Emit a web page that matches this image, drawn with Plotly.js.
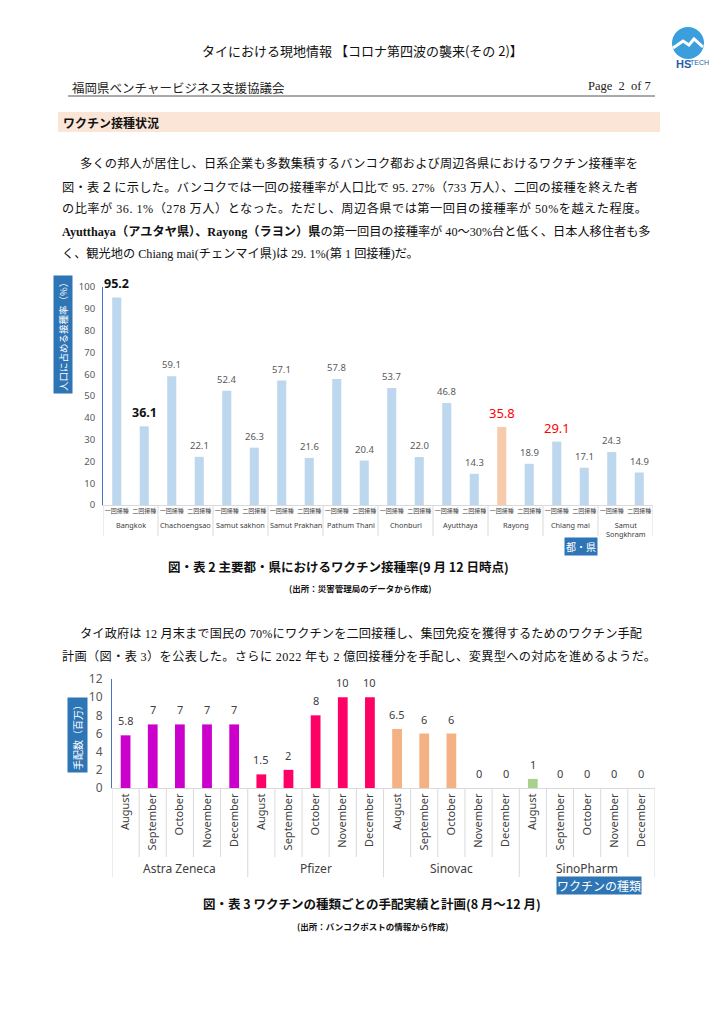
<!DOCTYPE html>
<html>
<head>
<meta charset="utf-8">
<script src="https://cdn.plot.ly/plotly-3.0.1.min.js"></script>
<style>
  html, body { margin: 0; padding: 0; background: #ffffff; }
  #chart { width: 724px; height: 1024px; }
</style>
</head>
<body>
<div id="chart"></div>
<script>
// ---------------- DATA ----------------
// Chart 1: vaccination rate by province (% of population)
const regions = ['Bangkok', 'Chachoengsao', 'Samut sakhon', 'Samut Prakhan', 'Pathum Thani',
                 'Chonburi', 'Ayutthaya', 'Rayong', 'Chiang mai', 'Samut<br>Songkhram'];
const doses = ['一回接種', '二回接種'];
const firstDose = [95.2, 59.1, 52.4, 57.1, 57.8, 53.7, 46.8, 35.8, 29.1, 24.3];
const secondDose = [36.1, 22.1, 26.3, 21.6, 20.4, 22.0, 14.3, 18.9, 17.1, 14.9];

// Chart 2: vaccine procurement (millions of doses)
const vaccines = ['Astra Zeneca', 'Pfizer', 'Sinovac', 'SinoPharm'];
const months = ['August', 'September', 'October', 'November', 'December'];
const astraZeneca = [5.8, 7, 7, 7, 7];
const pfizer = [1.5, 2, 8, 10, 10];
const sinovac = [6.5, 6, 6, 0, 0];
const sinoPharm = [1, 0, 0, 0, 0];

// ---------------- HELPERS ----------------
const W = 724, H = 1024;
const px = x => x / W;
const py = y => 1 - y / H;
const BODY_FONT = 'Liberation Serif, Noto Sans CJK JP, serif';
const JP_FONT = 'Noto Sans CJK JP, sans-serif';
const CHART_FONT = 'Noto Sans, Noto Sans CJK JP, sans-serif';
const BOX_BLUE = '#2E75B6';

const annotations = [];
const shapes = [];
const justifyList = [];
function txt(text, x, y, opts) {
  opts = opts || {};
  annotations.push({
    text: text, xref: 'paper', yref: 'paper', x: px(x), y: py(y),
    xanchor: opts.xanchor || 'left', yanchor: 'middle', showarrow: false,
    font: { family: opts.family || BODY_FONT, size: opts.size || 12, color: opts.color || '#111111' }
  });
  if (opts.justifyTo) justifyList.push({ idx: annotations.length - 1, text: text, x: x, target: opts.justifyTo });
}
function box(text, x, y, size, angle, pad) {
  annotations.push({ xref: 'paper', yref: 'paper', x: px(x), y: py(y), xanchor: 'center', yanchor: 'middle',
    text: text, textangle: angle, showarrow: false, bgcolor: BOX_BLUE, borderpad: pad,
    font: { family: JP_FONT, size: size, color: '#FFFFFF' } });
}

// ---------------- CHART 1 ----------------
const keys1 = [];
const tick1 = [];
const vals1 = [];
const colors1 = [];
regions.forEach((r, i) => {
  doses.forEach((d, k) => {
    keys1.push(r + '|' + d);
    tick1.push(d);
    const v = k === 0 ? firstDose[i] : secondDose[i];
    vals1.push(v);
    colors1.push(r === 'Rayong' && k === 0 ? '#F8CBAD' : '#BDD7EE');
  });
});

function labelStyle1(r, k) {
  if (r === 'Bangkok') return { size: 12.5, color: '#111111', bold: true, shift: 3 };
  if ((r === 'Rayong' || r === 'Chiang mai') && k === 0) return { size: 13, color: '#FF0000', bold: false, shift: 3 };
  return { size: 9.5, color: '#595959', bold: false, shift: 3 };
}
keys1.forEach((key, j) => {
  const i = Math.floor(j / 2), k = j % 2;
  const st = labelStyle1(regions[i], k);
  annotations.push({
    xref: 'x', yref: 'y', x: key, y: vals1[j],
    text: st.bold ? '<b>' + vals1[j].toFixed(1) + '</b>' : vals1[j].toFixed(1),
    showarrow: false, yanchor: 'bottom', yshift: st.shift,
    font: { family: CHART_FONT, size: st.size, color: st.color }
  });
});
// group labels + dividers
regions.forEach((r, i) => {
  annotations.push({
    xref: 'x', yref: 'paper', x: 2 * i + 0.5, y: py(518), yanchor: 'top',
    text: r, showarrow: false, font: { family: CHART_FONT, size: 7.3, color: '#404040' }
  });
});
for (let i = 0; i <= regions.length; i++) {
  shapes.push({ type: 'line', xref: 'x', yref: 'paper', x0: 2 * i - 0.5, x1: 2 * i - 0.5,
    y0: py(505), y1: py(536), line: { color: '#D9D9D9', width: 1 } });
}

// ---------------- CHART 2 ----------------
const series2 = [astraZeneca, pfizer, sinovac, sinoPharm];
const colors2 = ['#CC00CC', '#FF0066', '#F4B183', '#A9D18E'];
const keys2 = [];
const tick2 = [];
vaccines.forEach(v => months.forEach(m => { keys2.push(v + '|' + m); tick2.push(m); }));

const traces = [{
  type: 'bar', x: keys1, y: vals1, xaxis: 'x', yaxis: 'y',
  marker: { color: colors1 }, width: 0.33, hoverinfo: 'skip'
}];
vaccines.forEach((v, g) => {
  const xs = months.map(m => v + '|' + m);
  traces.push({
    type: 'bar', x: xs, y: series2[g], xaxis: 'x2', yaxis: 'y2',
    marker: { color: colors2[g] }, width: 0.36, hoverinfo: 'skip'
  });
  xs.forEach((key, k) => {
    annotations.push({
      xref: 'x2', yref: 'y2', x: key, y: series2[g][k], text: String(series2[g][k]),
      showarrow: false, yanchor: 'bottom', yshift: 5,
      font: { family: CHART_FONT, size: 11, color: '#404040' }
    });
  });
  annotations.push({
    xref: 'x2', yref: 'paper', x: 5 * g + 2, y: py(868), yanchor: 'middle',
    text: v, showarrow: false, font: { family: CHART_FONT, size: 12, color: '#404040' }
  });
});
for (let j = 0; j <= keys2.length; j++) {
  const isGroup = j % 5 === 0;
  shapes.push({ type: 'line', xref: 'x2', yref: 'paper', x0: j - 0.5, x1: j - 0.5,
    y0: py(788), y1: py(isGroup ? 877 : 857), line: { color: '#D9D9D9', width: 1 } });
}

// ---------------- PAGE TEXT ----------------
// header
txt('タイにおける現地情報 【コロナ第四波の襲来(その 2)】', 362, 50, { xanchor: 'center', family: JP_FONT, size: 13 });
txt('福岡県ベンチャービジネス支援協議会', 70, 87, { family: JP_FONT, size: 12.5, color: '#222222' });
txt('Page  2  of 7', 653, 86, { xanchor: 'right', family: 'Liberation Serif, serif', size: 12.5, color: '#222222' });
shapes.push({ type: 'line', xref: 'paper', yref: 'paper', x0: px(68), x1: px(655), y0: py(96), y1: py(96),
  line: { color: '#555555', width: 1 } });
// logo
shapes.push({ type: 'circle', xref: 'paper', yref: 'paper', x0: px(672), x1: px(704), y0: py(59), y1: py(27),
  fillcolor: '#3A9FDC', line: { width: 0 } });
shapes.push({ type: 'path', xref: 'paper', yref: 'paper',
  path: `M ${px(673)} ${py(48)} L ${px(683)} ${py(41)} L ${px(689)} ${py(45)} L ${px(694)} ${py(39)} L ${px(703)} ${py(47)}`,
  line: { color: '#FFFFFF', width: 3 } });
txt('<b>HS</b>', 674, 64, { family: 'Liberation Sans Narrow, Liberation Sans, sans-serif', size: 11, color: '#1F5FA8' });
txt('TECH', 688, 62, { family: 'Liberation Sans Narrow, Liberation Sans, sans-serif', size: 7, color: '#1F5FA8' });

// section heading
shapes.push({ type: 'rect', xref: 'paper', yref: 'paper', x0: px(58), x1: px(660), y0: py(132), y1: py(112),
  fillcolor: '#FBE5D6', line: { width: 0 } });
txt('<b>ワクチン接種状況</b>', 61, 122, { family: JP_FONT, size: 12 });

// paragraph 1 (lines justified like the Word source)
const p1 = [
  ['多くの邦人が居住し、日系企業も多数集積するバンコク都および周辺各県におけるワクチン接種率を', 78, 163, 636],
  ['図・表 <span style="font-family:Noto Sans;font-size:14px">2</span> に示した。バンコクでは一回の接種率が人口比で 95. 27%（733 万人）、二回の接種を終えた者', 60, 186, 636],
  ['の比率が 36. 1%（278 万人）となった。ただし、周辺各県では第一回目の接種率が 50%を越えた程度。', 60, 208, 645],
  ['<b>Ayutthaya（アユタヤ県）、Rayong（ラヨン）県</b>の第一回目の接種率が 40～30%台と低く、日本人移住者も多', 60, 231, 648],
  ['く、観光地の Chiang mai(チェンマイ県)は 29. 1%(第 1 回接種)だ。', 60, 253, 0]
];
p1.forEach(l => txt(l[0], l[1], l[2], { size: 12.2, justifyTo: l[3] }));

// chart 1 boxes & captions
box('人口に占める接種率（%）', 63, 335, 9.5, -90, 2);
box('都・県', 581, 546, 10, 0, 1);
txt('<b>図・表 2 主要都・県におけるワクチン接種率(9 月 12 日時点)</b>', 338, 566, { xanchor: 'center', family: JP_FONT, size: 12.5 });
txt('<b>(出所：災害管理局のデータから作成)</b>', 360, 588, { xanchor: 'center', family: JP_FONT, size: 8.5 });

// paragraph 2
txt('タイ政府は 12 月末まで国民の 70%にワクチンを二回接種し、集団免疫を獲得するためのワクチン手配', 78, 633, { size: 12.2, justifyTo: 640 });
txt('計画（図・表 3）を公表した。さらに 2022 年も 2 億回接種分を手配し、変異型への対応を進めるようだ。', 60, 656, { size: 12.2, justifyTo: 654 });

// chart 2 boxes & captions
box('手配数（百万）', 77, 735, 10, -90, 2);
box('ワクチンの種類', 599, 885, 12, 0, 0);
txt('<b>図・表 3 ワクチンの種類ごとの手配実績と計画(8 月～12 月)</b>', 372, 903, { xanchor: 'center', family: JP_FONT, size: 12.5 });
txt('<b>(出所：バンコクポストの情報から作成)</b>', 372, 926, { xanchor: 'center', family: JP_FONT, size: 8.5 });

// ---------------- LAYOUT ----------------
const layout = {
  width: W, height: H, margin: { l: 0, r: 0, t: 0, b: 0 },
  paper_bgcolor: '#FFFFFF', plot_bgcolor: 'rgba(0,0,0,0)',
  showlegend: false, barmode: 'overlay',
  xaxis: {
    domain: [px(103), px(653)], anchor: 'y', type: 'category',
    categoryorder: 'array', categoryarray: keys1, tickvals: keys1, ticktext: tick1,
    range: [-0.5, keys1.length - 0.5], tickangle: 0,
    tickfont: { family: JP_FONT, size: 6, color: '#404040' },
    showline: true, linecolor: '#D9D9D9', linewidth: 1, ticks: '', showgrid: false, zeroline: false,
    fixedrange: true
  },
  yaxis: {
    domain: [py(505), py(287)], anchor: 'x', range: [0, 100], dtick: 10,
    tickfont: { family: CHART_FONT, size: 9.5, color: '#595959' },
    showline: true, linecolor: '#4472C4', linewidth: 1, ticks: '', showgrid: false, zeroline: false,
    ticklabelstandoff: 5, fixedrange: true
  },
  xaxis2: {
    domain: [px(112), px(655)], anchor: 'y2', type: 'category',
    categoryorder: 'array', categoryarray: keys2, tickvals: keys2, ticktext: tick2,
    range: [-0.5, keys2.length - 0.5], tickangle: -90,
    tickfont: { family: CHART_FONT, size: 11, color: '#404040' },
    showline: true, linecolor: '#D9D9D9', linewidth: 1, ticks: '', showgrid: false, zeroline: false,
    fixedrange: true
  },
  yaxis2: {
    domain: [py(788), py(679)], anchor: 'x2', range: [0, 12], dtick: 2,
    tickfont: { family: CHART_FONT, size: 12, color: '#595959' },
    showline: true, linecolor: '#4472C4', linewidth: 1, ticks: '', showgrid: false, zeroline: false,
    ticklabelstandoff: 6, fixedrange: true
  },
  annotations: annotations,
  shapes: shapes
};

Plotly.newPlot('chart', traces, layout, { staticPlot: true, displayModeBar: false }).then(gd => {
  // justify body-text lines to the right margin via letter-spacing
  const update = {};
  justifyList.forEach(j => {
    if (!j.target) return;
    const el = gd.querySelector(`.annotation[data-index="${j.idx}"] .annotation-text`);
    if (!el) return;
    const w = el.getBBox().width;
    const plain = j.text.replace(/<[^>]+>/g, '');
    const n = Array.from(plain).length - 1;
    const ls = Math.max(0, (j.target - j.x - w) / n);
    update[`annotations[${j.idx}].text`] = `<span style="letter-spacing:${ls.toFixed(3)}px">${j.text}</span>`;
  });
  return Plotly.relayout(gd, update);
});
</script>
</body>
</html>
